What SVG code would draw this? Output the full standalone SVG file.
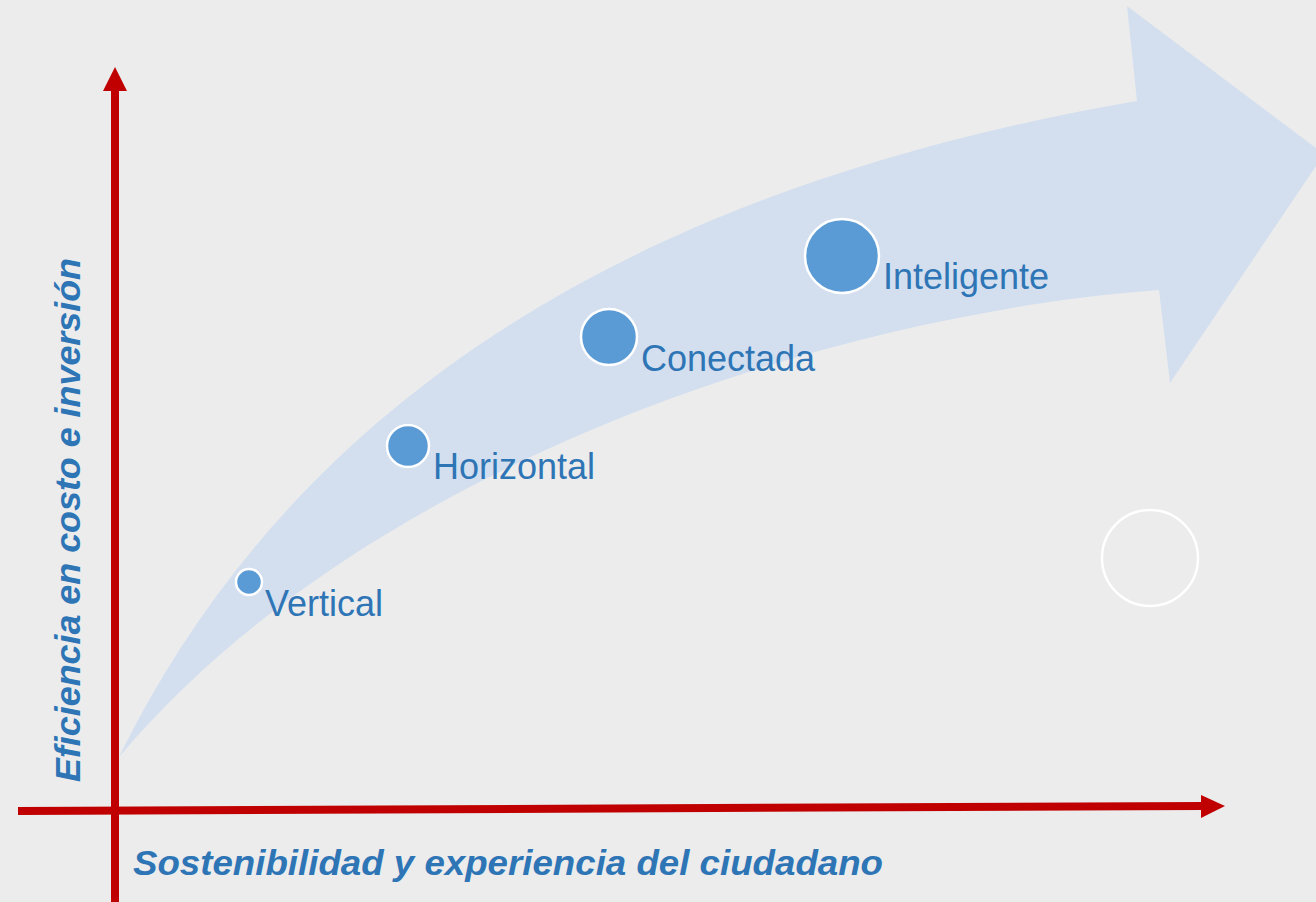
<svg xmlns="http://www.w3.org/2000/svg" width="1316" height="902" viewBox="0 0 1316 902">
<style>
.lbl{font-family:"Liberation Sans",Arial,sans-serif;font-size:36px;fill:#2E75B6}
.ax{font-family:"Liberation Sans",Arial,sans-serif;font-size:35px;font-weight:bold;font-style:italic;fill:#2E75B6}
.dot{fill:#5B9BD5;stroke:#FFFFFF;stroke-width:2.5}
.axis{stroke:#C00000;stroke-width:8;fill:none}
</style>
<rect width="1316" height="902" fill="#ECECEC"/>
<g id="band">
<path d="M119,757 C290,410 620,190 1137,101 L1127,6 L1324,154 L1170,383 L1159,290 C820,315 360,470 119,757 Z" fill="#D3DFEF"/>
</g>
<g id="empty-circle"><circle cx="1150" cy="558" r="48" fill="none" stroke="#FFFFFF" stroke-width="2.5"/></g>
<g id="vertical"><circle class="dot" cx="249" cy="582" r="13"/><text class="lbl" x="265" y="616">Vertical</text></g>
<g id="horizontal"><circle class="dot" cx="408" cy="446" r="21"/><text class="lbl" x="433" y="479">Horizontal</text></g>
<g id="conectada"><circle class="dot" cx="609" cy="337" r="28"/><text class="lbl" x="641" y="371">Conectada</text></g>
<g id="inteligente"><circle class="dot" cx="842" cy="256" r="37"/><text class="lbl" x="883" y="289">Inteligente</text></g>
<g id="connectors">
<line class="axis" x1="115" y1="902" x2="115" y2="88"/>
<polygon points="115,67 103,91 127,91" fill="#C00000"/>
<line class="axis" x1="18" y1="811" x2="1203" y2="806"/>
<polygon points="1225,806 1201,795 1201,818" fill="#C00000"/>
</g>
<g id="axis-labels">
<text class="ax" x="133" y="875" textLength="750" lengthAdjust="spacingAndGlyphs">Sostenibilidad y experiencia del ciudadano</text>
<text class="ax" transform="translate(80,782) rotate(-90)" x="0" y="0" textLength="524" lengthAdjust="spacingAndGlyphs">Eficiencia en costo e inversión</text>
</g>
</svg>
